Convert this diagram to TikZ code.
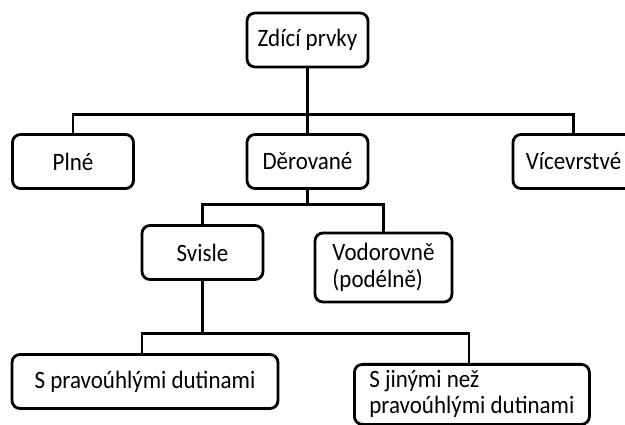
\documentclass[tikz,border=0pt]{standalone}
\usepackage{fontspec}
\setmainfont{Carlito}[FakeStretch=0.92]
\usepackage{tikz}

\begin{document}
\begin{tikzpicture}[x=1pt,y=-1pt,
    box/.style={draw, line width=2.8pt, rounded corners=8pt, fill=white,
      inner sep=0pt, minimum width=121pt, minimum height=54pt,
      font=\fontsize{25}{27}\selectfont},
    link/.style={line width=2.8pt}]
  \useasboundingbox (0,0) rectangle (625,425);
  % nodes
  \node[box] (Z) at (307.5,40) {Zdící prvky};
  \node[box] (P) at (73,161.5) {Plné};
  \node[box] (D) at (307.5,161.5) {Děrované};
  \node[box] (V) at (573.5,161.5) {Vícevrstvé};
  \node[box] (S) at (202.5,252.5) {Svisle};
  \node[box, minimum width=137pt, minimum height=69pt, align=left] (H) at (383.5,267.5) {Vodorovně\\(podélně)};
  \node[box, minimum width=266pt] (R) at (145,381.5) {S pravoúhlými dutinami};
  \node[box, minimum width=235pt, minimum height=60pt, align=left, anchor=north west,
    font=\fontsize{25}{26}\selectfont] (J) at (353,363) {S jinými než\\pravoúhlými dutinami};
  % connectors
  \draw[link] (Z.south) -- (D.north);
  \draw[link] (Z.south) -- ++(0,46) -| (P.north);
  \draw[link] (Z.south) -- ++(0,46) -| (V.north);
  \draw[link] (D.south) -- ++(0,15) -| (S.north);
  \draw[link] (D.south) -- ++(0,15) -| (H.north);
  \draw[link] (S.south) -- ++(0,53) -| ([xshift=-3pt]R.north);
  \draw[link] (S.south) -- ++(0,53) -| ([xshift=-3pt]J.north);
\end{tikzpicture}
\end{document}
